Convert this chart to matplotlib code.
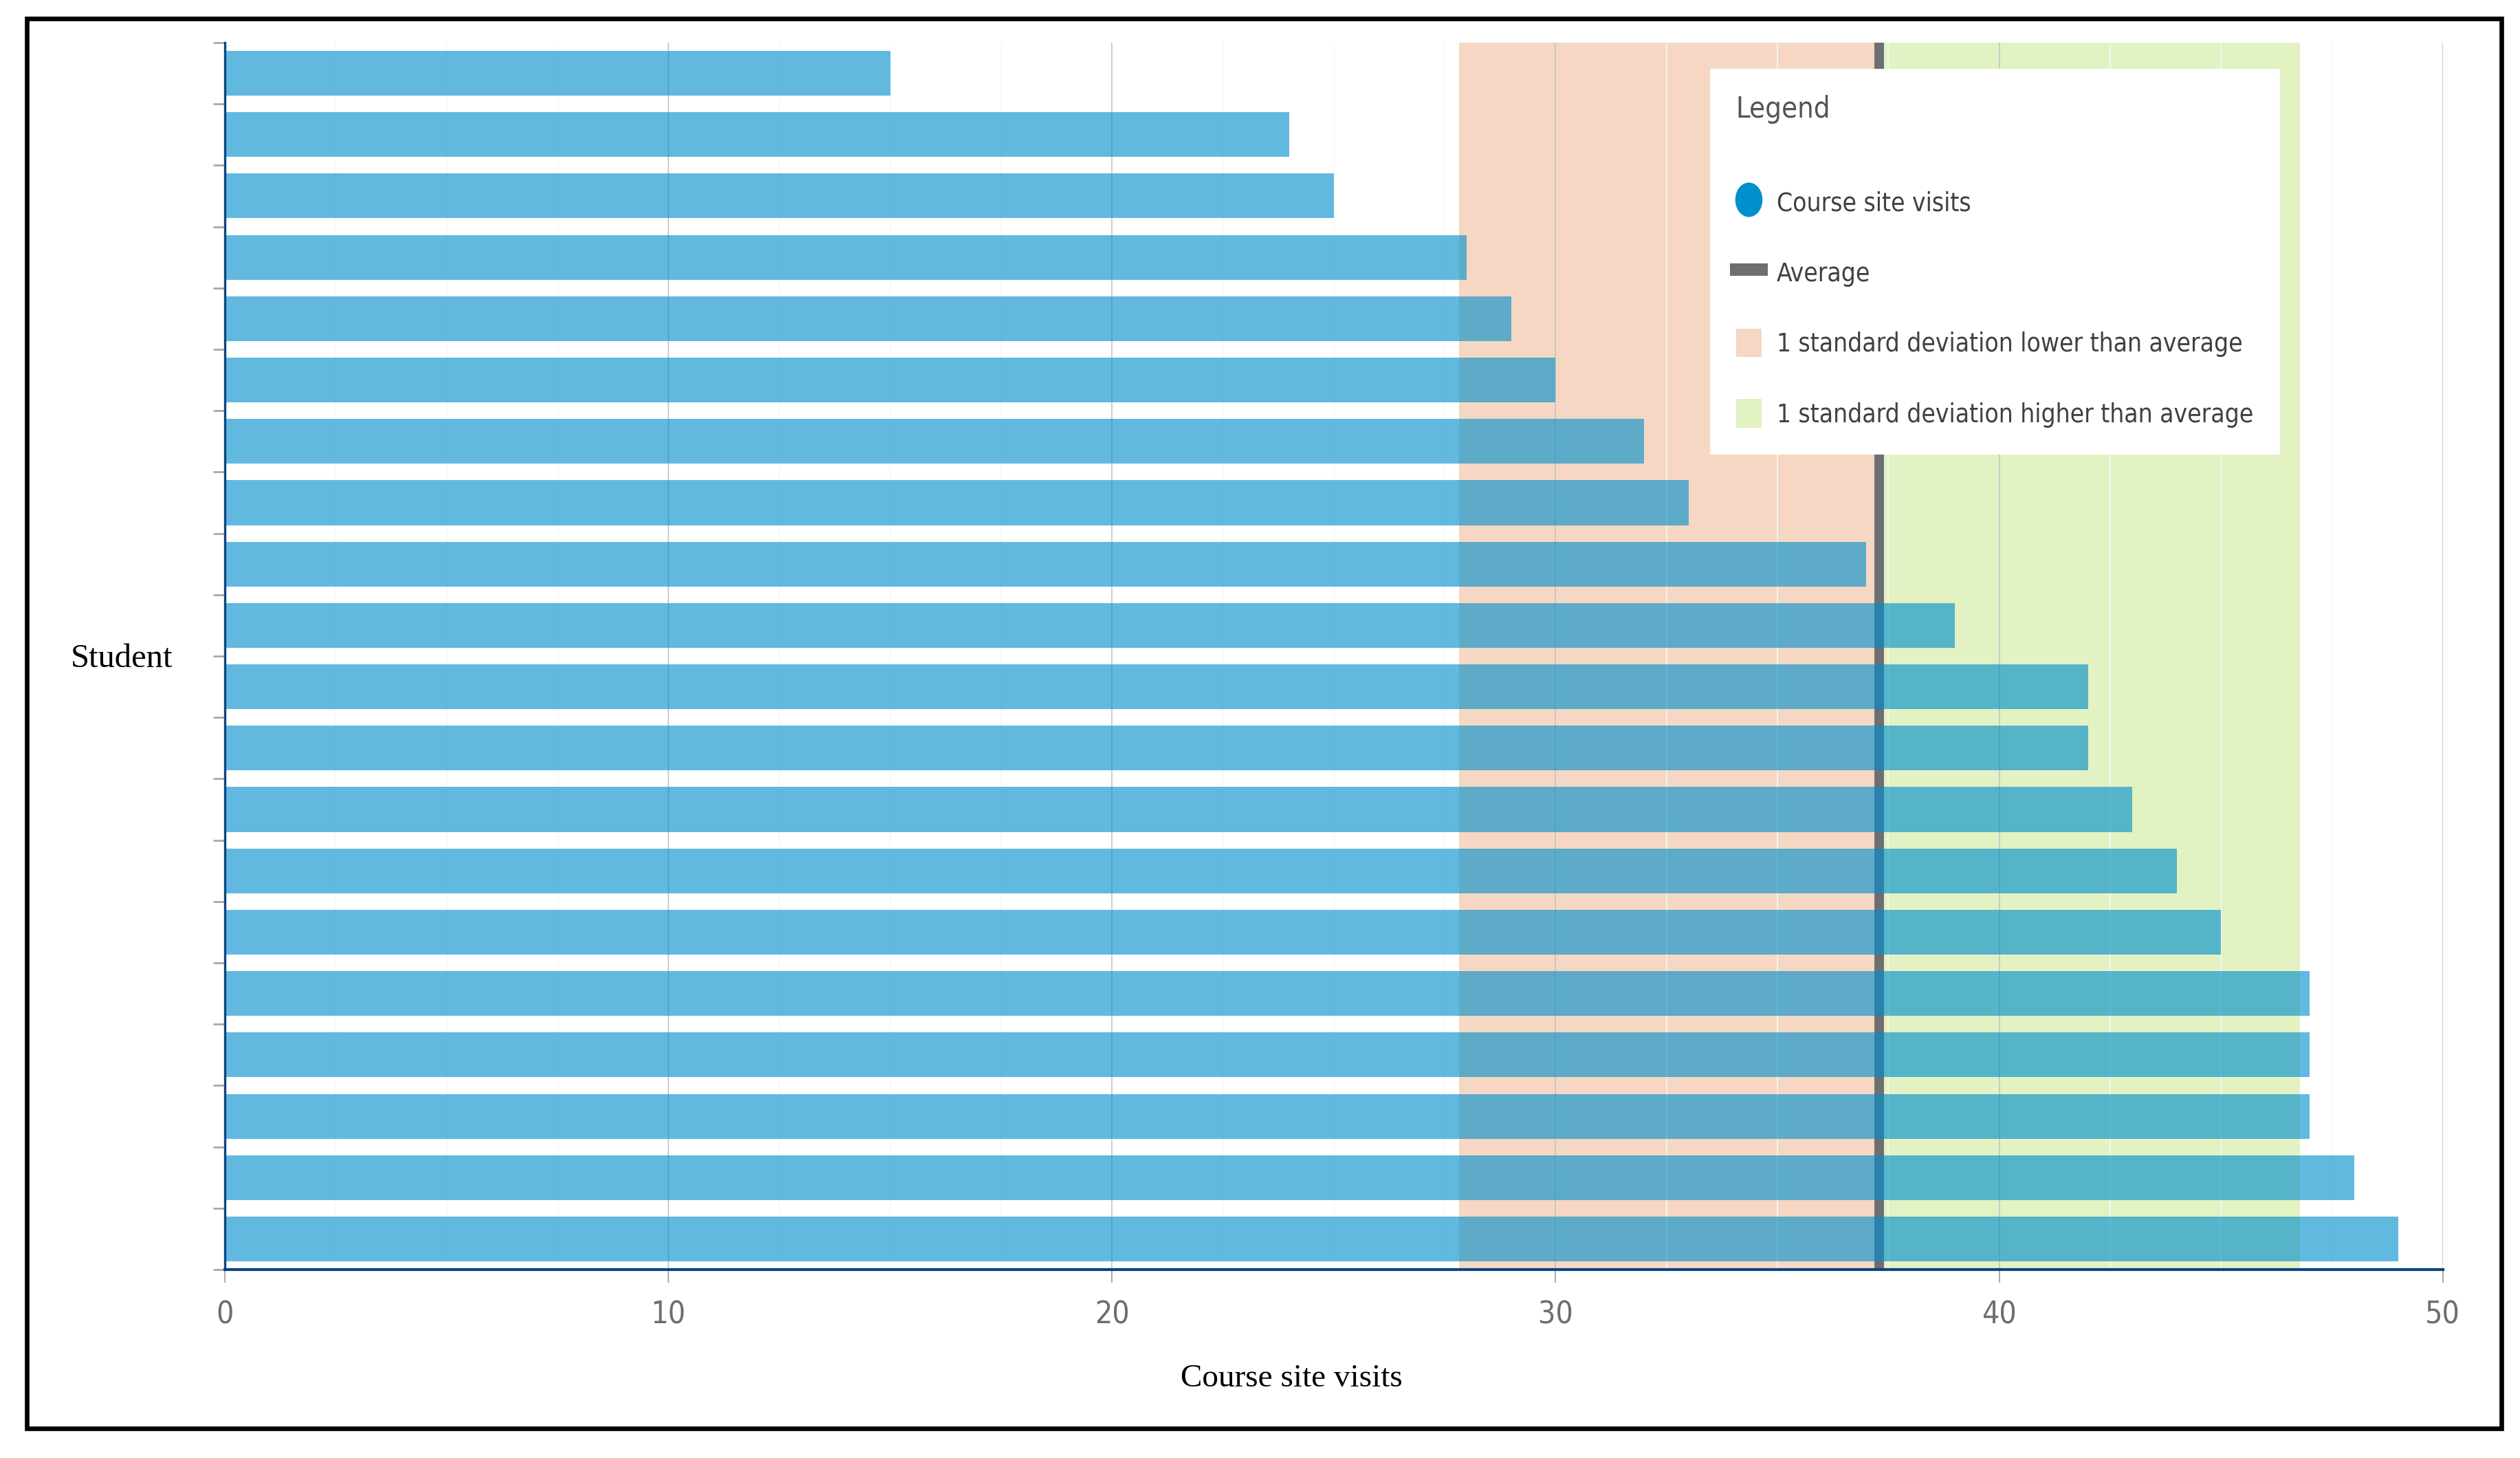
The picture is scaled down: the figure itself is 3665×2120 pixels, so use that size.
import numpy as np
import matplotlib
matplotlib.use("Agg")
import matplotlib.pyplot as plt
from matplotlib.patches import Patch, Rectangle
from matplotlib.lines import Line2D
from matplotlib.path import Path
from matplotlib.transforms import Affine2D
from matplotlib.ticker import MultipleLocator

# course site visits per student, top to bottom
visits = [15, 24, 25, 28, 29, 30, 32, 33, 37, 39,
          42, 42, 43, 44, 45, 47, 47, 47, 48, 49]
x_ticks = [0, 10, 20, 30, 40, 50]

avg = np.mean(visits)
std = np.std(visits)

BAR = "#008FCD"
LOW = "#F6D7C3"
HIGH = "#E2F2C3"
AVG = "#6D6E71"
SPINE = "#0A4682"
SERIF = ["Liberation Serif", "DejaVu Serif"]

fig = plt.figure(figsize=(18.33, 10.6), dpi=200)
ax = fig.add_axes([0.0892, 0.1292, 0.9691 - 0.0892, 0.9708 - 0.1292])

y = np.arange(len(visits))
ax.axvspan(avg - std, avg, color=LOW, zorder=0.2, lw=0)
ax.axvspan(avg, avg + std, color=HIGH, zorder=0.2, lw=0)
ax.axvline(avg, color=AVG, lw=5, zorder=1)
ax.barh(y, visits, height=0.73, color=BAR, alpha=0.62, zorder=2, lw=0)

ax.set_xlim(0, 50)
ax.set_ylim(len(visits) - 0.5, -0.5)
ax.set_xticks(x_ticks)
ax.xaxis.set_minor_locator(MultipleLocator(2.5))
ax.set_yticks(np.arange(-0.5, len(visits)))
ax.set_yticklabels([])
ax.set_axisbelow(True)
ax.grid(axis="x", which="major", color="#C4C4C4", lw=0.6)
ax.grid(axis="x", which="minor", color="#F8F8F8", lw=0.6)

ax.tick_params(axis="x", which="major", length=7, width=0.7, color="#A8A8A8",
               labelcolor="#6E6E6E", labelsize=16, pad=9)
ax.tick_params(axis="x", which="minor", length=0)
ax.tick_params(axis="y", length=6, width=1.0, color="#A8A8A8")
for lbl in ax.get_xticklabels():
    lbl.set_fontstretch("condensed")

for s in ["top", "right"]:
    ax.spines[s].set_visible(False)
ax.spines["bottom"].set_color(SPINE)
ax.spines["bottom"].set_linewidth(1.5)
ax.spines["left"].set_color(SPINE)
ax.spines["left"].set_linewidth(1.2)

ax.set_xlabel("Course site visits", family=SERIF, fontsize=17, color="black")
ax.xaxis.set_label_coords(0.481, -0.089)
ax.xaxis.label.set_va("center")
ax.set_ylabel("Student", family=SERIF, fontsize=17.5, color="black", rotation=0)
ax.yaxis.set_label_coords(-0.0464, 0.498)
ax.yaxis.label.set_va("center")
ax.yaxis.label.set_ha("center")

ellipse = Path.unit_circle().transformed(Affine2D().scale(0.78, 1.0))
handles = [
    Line2D([], [], marker=ellipse, ls="none", color=BAR, markersize=17),
    Line2D([], [], color=AVG, lw=6.5),
    Patch(color=LOW, lw=0),
    Patch(color=HIGH, lw=0),
]
labels = ["Course site visits", "Average",
          "1 standard deviation lower than average",
          "1 standard deviation higher than average"]
leg = ax.legend(handles, labels, title="Legend\n", loc="upper right",
                bbox_to_anchor=(0.926, 0.978), borderaxespad=0,
                frameon=True, fancybox=False, framealpha=1,
                edgecolor="white", facecolor="white",
                prop={"size": 13.3, "stretch": "condensed"},
                title_fontproperties={"size": 15, "stretch": "condensed"},
                alignment="left", handlelength=1.0, handleheight=1.35,
                handletextpad=0.6, borderpad=1.0, labelspacing=1.65,
                numpoints=1)
leg.get_title().set_color("#555555")
leg.get_title().set_linespacing(0.7)
for t in leg.get_texts():
    t.set_color("#404040")
leg.set_zorder(5)

fig.add_artist(Rectangle((0.01077, 0.0203), 0.9924 - 0.01077, 0.98726 - 0.0203,
                         transform=fig.transFigure, fill=False,
                         ec="black", lw=2.4))

fig.savefig("out.png", dpi=200, facecolor="white")
